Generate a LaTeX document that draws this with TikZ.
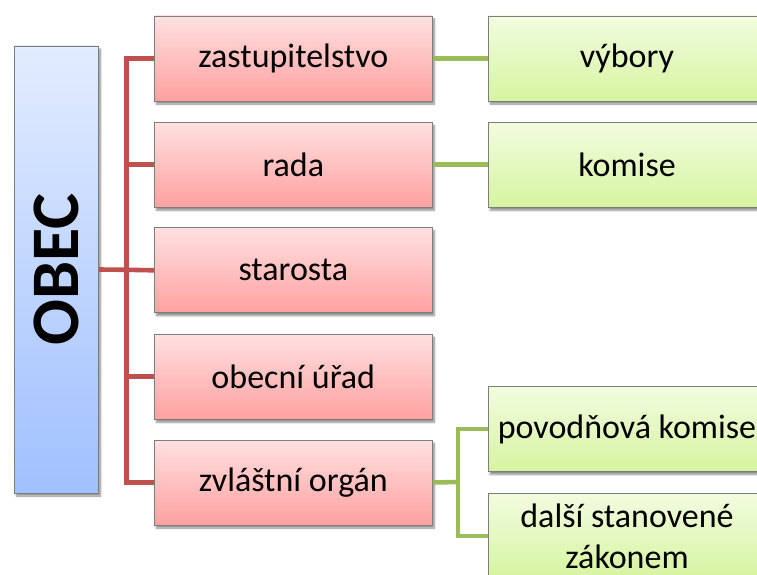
\documentclass[tikz,border=0pt]{standalone}
\usepackage{fontspec}
\setmainfont{Carlito}
\usetikzlibrary{shadows.blur}

\definecolor{redline}{RGB}{192,80,77}
\definecolor{greenline}{RGB}{155,187,89}
\definecolor{boxborder}{RGB}{125,125,125}

\tikzset{
  box/.style={draw=boxborder, line width=0.9pt, inner sep=0pt,
    minimum width=278pt, minimum height=85pt, align=center,
    font=\fontsize{34}{41}\selectfont,
    blur shadow={shadow xshift=2pt, shadow yshift=-3pt, shadow blur steps=6, shadow opacity=45}},
  redbox/.style={box, top color={rgb,255:red,255;green,224;blue,224}, bottom color={rgb,255:red,255;green,160;blue,160}},
  greenbox/.style={box, top color={rgb,255:red,242;green,252;blue,224}, bottom color={rgb,255:red,214;green,244;blue,160}},
  bluebox/.style={draw=boxborder, line width=0.9pt, inner sep=0pt,
    top color={rgb,255:red,226;green,236;blue,255}, bottom color={rgb,255:red,160;green,192;blue,255},
    blur shadow={shadow xshift=2pt, shadow yshift=-3pt, shadow blur steps=6, shadow opacity=45}},
  redlink/.style={draw=redline, line width=4.6pt},
  greenlink/.style={draw=greenline, line width=4.6pt},
}

\begin{document}
\begin{tikzpicture}[x=1pt, y=-1pt]
\useasboundingbox (0,0) rectangle (757,575);
\clip (0,0) rectangle (757,575);

% root column
\node[bluebox, minimum width=84pt, minimum height=447pt] (obec) at (56.5,269.5) {};
\node[rotate=90, font=\fontsize{68}{80}\selectfont\bfseries] (obeclabel) at (obec.center) {OBEC};

% bus coordinates
\coordinate (rbus) at (126.5,269.8);
\coordinate (gbus) at (458,482);

% bodies of the municipality
\node[redbox] (zast) at (293.3,58.5) {zastupitelstvo};
\node[redbox] (rada) at (293.3,164.7) {rada};
\node[redbox] (star) at (293.3,270.3) {starosta};
\node[redbox] (urad) at (293.3,376.7) {obecní úřad};
\node[redbox] (zvl)  at (293.3,482.5) {zvláštní orgán};

% subordinate bodies
\node[greenbox] (vyb) at (627,58.5) {výbory};
\node[greenbox] (kom) at (627,164.7) {komise};
\node[greenbox] (pov) at (627,429) {povodňová komise};
\node[greenbox] (dal) at (627,536) {další stanovené\\zákonem};

% red tree from the root
\draw[redlink] (obec.east) -- (rbus);
\draw[redlink] (zast.west) -- (zast.west -| rbus) -- (zvl.west -| rbus) -- (zvl.west);
\draw[redlink] (rada.west) -- (rada.west -| rbus);
\draw[redlink] (star.west) -- (rbus);
\draw[redlink] (urad.west) -- (urad.west -| rbus);

% green links
\draw[greenlink] (zast.east) -- (vyb.west);
\draw[greenlink] (rada.east) -- (kom.west);
\draw[greenlink] (zvl.east) -- (gbus);
\draw[greenlink] (pov.west) -- (pov.west -| gbus) -- (dal.west -| gbus) -- (dal.west);
\end{tikzpicture}
\end{document}
